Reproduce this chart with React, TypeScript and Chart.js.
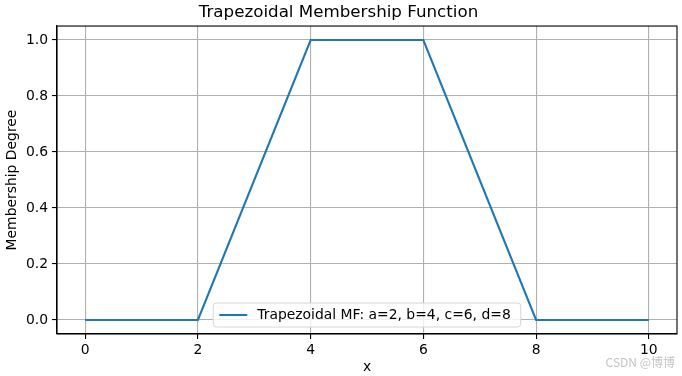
import React, { useEffect, useRef } from "react";
import { Chart, registerables } from "chart.js";

Chart.register(...registerables);

const xValues = [0, 2, 4, 6, 8, 10];
const yValues = [0, 0, 1, 1, 0, 0];
const xTicks = [0, 2, 4, 6, 8, 10];
const yTicks = [0, 0.2, 0.4, 0.6, 0.8, 1.0];
const seriesLabel = "Trapezoidal MF: a=2, b=4, c=6, d=8";
const titleText = "Trapezoidal Membership Function";
const xLabel = "x";
const yLabel = "Membership Degree";
const watermark = "CSDN @博博";

const FONT = "DejaVu Sans";
const LINE_COLOR = "#1f77b4";

const framePlugin = {
  id: "frameLegend",
  afterDraw(chart: any) {
    const { ctx, chartArea } = chart;
    ctx.save();
    ctx.strokeStyle = "#000";
    ctx.lineWidth = 1.1;
    ctx.strokeRect(chartArea.left, chartArea.top, chartArea.right - chartArea.left, chartArea.bottom - chartArea.top);
    ctx.font = `13.9px '${FONT}'`;
    const tw = ctx.measureText(seriesLabel).width;
    const boxW = 10 + 28 + 10 + tw + 6;
    const boxH = 24;
    const cx = (chartArea.left + chartArea.right) / 2;
    const bx = cx - boxW / 2;
    const by = chartArea.bottom - 7 - boxH;
    ctx.beginPath();
    const r = 3;
    ctx.moveTo(bx + r, by);
    ctx.lineTo(bx + boxW - r, by);
    ctx.quadraticCurveTo(bx + boxW, by, bx + boxW, by + r);
    ctx.lineTo(bx + boxW, by + boxH - r);
    ctx.quadraticCurveTo(bx + boxW, by + boxH, bx + boxW - r, by + boxH);
    ctx.lineTo(bx + r, by + boxH);
    ctx.quadraticCurveTo(bx, by + boxH, bx, by + boxH - r);
    ctx.lineTo(bx, by + r);
    ctx.quadraticCurveTo(bx, by, bx + r, by);
    ctx.closePath();
    ctx.fillStyle = "rgba(255,255,255,0.8)";
    ctx.fill();
    ctx.strokeStyle = "#d6d6d6";
    ctx.lineWidth = 1;
    ctx.stroke();
    const ly = by + boxH / 2;
    ctx.strokeStyle = LINE_COLOR;
    ctx.lineWidth = 2.1;
    ctx.beginPath();
    ctx.moveTo(bx + 6, ly);
    ctx.lineTo(bx + 34, ly);
    ctx.stroke();
    ctx.fillStyle = "#000";
    ctx.textBaseline = "middle";
    ctx.textAlign = "left";
    ctx.fillText(seriesLabel, bx + 44, ly);
    ctx.font = "12px 'Noto Sans CJK SC'";
    ctx.fillStyle = "#c4c4c4";
    ctx.textAlign = "right";
    ctx.fillText(watermark, 675, 362);
    ctx.restore();
  },
};

export default function App() {
  const ref = useRef<HTMLCanvasElement>(null);
  useEffect(() => {
    if (!ref.current) return;
    const chart = new Chart(ref.current, {
      type: "scatter",
      data: {
        datasets: [
          {
            label: seriesLabel,
            data: xValues.map((x, i) => ({ x, y: yValues[i] })),
            showLine: true,
            borderColor: LINE_COLOR,
            backgroundColor: LINE_COLOR,
            borderWidth: 2.1,
            pointRadius: 0,
            tension: 0,
          },
        ],
      },
      options: {
        animation: false,
        responsive: false,
        devicePixelRatio: 1,
        layout: { padding: { left: 0, right: 5, top: 0, bottom: 0 } },
        plugins: {
          legend: { display: false },
          tooltip: { enabled: false },
          title: {
            display: true,
            text: titleText,
            color: "#000",
            font: { family: FONT, size: 16.7, weight: "normal" },
            padding: { top: 3, bottom: 3 },
          },
        },
        scales: {
          x: {
            type: "linear",
            min: -0.5,
            max: 10.5,
            afterBuildTicks: (s: any) => {
              s.ticks = xTicks.map((v) => ({ value: v }));
            },
            afterFit: (s: any) => {
              s.height = 42;
            },
            ticks: {
              color: "#000",
              font: { family: FONT, size: 13.9 },
              padding: 3,
              maxRotation: 0,
              autoSkip: false,
              callback: (v: any) => String(v),
            },
            grid: { color: "#b0b0b0", lineWidth: 1.1, tickColor: "#000", tickLength: 5 },
            border: { color: "#000", width: 1.1 },
            title: {
              display: true,
              text: xLabel,
              color: "#000",
              font: { family: FONT, size: 13.9 },
              padding: { top: 0, bottom: 0 },
            },
          },
          y: {
            type: "linear",
            min: -0.05,
            max: 1.05,
            afterBuildTicks: (s: any) => {
              s.ticks = yTicks.map((v) => ({ value: v }));
            },
            afterFit: (s: any) => {
              s.width = 57;
            },
            ticks: {
              color: "#000",
              font: { family: FONT, size: 13.9 },
              padding: 4,
              autoSkip: false,
              callback: (v: any) => Number(v).toFixed(1),
            },
            grid: { color: "#b0b0b0", lineWidth: 1.1, tickColor: "#000", tickLength: 5 },
            border: { color: "#000", width: 1.1 },
            title: {
              display: true,
              text: yLabel,
              color: "#000",
              font: { family: FONT, size: 13.9 },
              padding: { top: 4, bottom: 0 },
            },
          },
        },
      },
      plugins: [framePlugin],
    } as any);
    return () => chart.destroy();
  }, []);
  return (
    <div style={{ position: "fixed", left: 0, top: 0, width: 682, height: 376, background: "#fff" }}>
      <canvas ref={ref} width={682} height={376} style={{ width: 682, height: 376, display: "block" }} />
    </div>
  );
}
